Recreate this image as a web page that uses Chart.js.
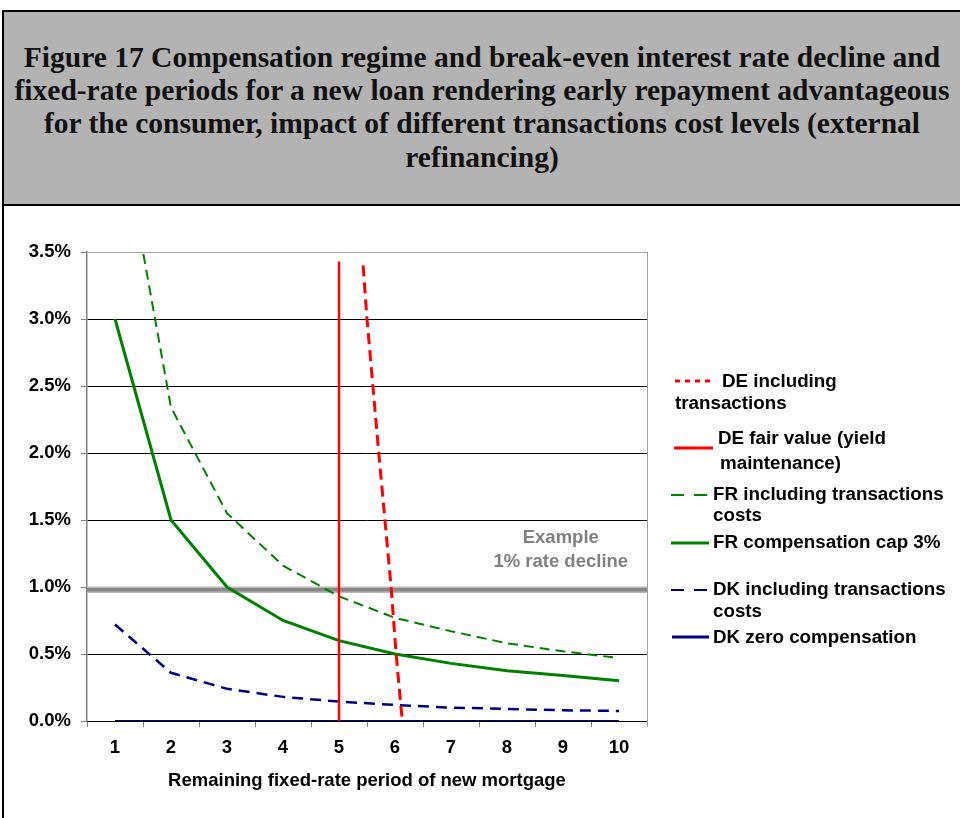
<!DOCTYPE html>
<html>
<head>
<meta charset="utf-8">
<script src="https://cdn.jsdelivr.net/npm/chart.js@4/dist/chart.umd.min.js"></script>
<style>
  html, body { margin:0; padding:0; background:#fff; width:960px; height:818px; overflow:hidden; position:relative; }
  #titlebox { position:absolute; left:2px; top:10px; width:960px; height:192px; background:#b3b3b3;
    border-top:2px solid #000; border-left:2px solid #000; border-bottom:2px solid #000; }
  .tl { position:absolute; left:2px; width:960px; text-align:center; white-space:nowrap;
    font-family:"Liberation Serif", serif; font-weight:bold; font-size:29.5px; line-height:33.4px; color:#111; }
  #leftborder { position:absolute; left:2px; top:206px; width:2px; height:612px; background:#000; }
  #chartwrap { position:absolute; left:0; top:210px; width:660px; height:608px; }
  .lg { position:absolute; font-family:"Liberation Sans", Arial, sans-serif; font-weight:bold; font-size:18.8px;
    line-height:22px; color:#000; white-space:nowrap; }
  svg.samp { position:absolute; left:0; top:0; width:960px; height:818px; pointer-events:none; }
</style>
</head>
<body>
<div id="titlebox"></div>
<div class="tl" style="top:40.5px;">Figure 17 Compensation regime and break-even interest rate decline and</div>
<div class="tl" style="top:73.9px;">fixed-rate periods for a new loan rendering early repayment advantageous</div>
<div class="tl" style="top:107.3px;">for the consumer, impact of different transactions cost levels (external</div>
<div class="tl" style="top:140.7px;">refinancing)</div>
<div id="leftborder"></div>
<div id="chartwrap"><canvas id="c" width="660" height="608"></canvas></div>

<svg class="samp" xmlns="http://www.w3.org/2000/svg">
  <line x1="675" y1="381" x2="713" y2="381" stroke="#ff0000" stroke-width="3" stroke-dasharray="5,5"/>
  <line x1="674" y1="448" x2="713" y2="448" stroke="#ff0000" stroke-width="3"/>
  <line x1="671" y1="495" x2="707" y2="495" stroke="#008000" stroke-width="2" stroke-dasharray="13,10"/>
  <line x1="671" y1="543" x2="709" y2="543" stroke="#008000" stroke-width="3"/>
  <line x1="671" y1="590" x2="707" y2="590" stroke="#000080" stroke-width="2" stroke-dasharray="13,10"/>
  <line x1="672" y1="637" x2="709" y2="637" stroke="#000080" stroke-width="3"/>
</svg>
<div class="lg" style="left:722px; top:370px;">DE including</div>
<div class="lg" style="left:675px; top:392px;">transactions</div>
<div class="lg" style="left:718px; top:427px;">DE fair value (yield</div>
<div class="lg" style="left:720px; top:452px;">maintenance)</div>
<div class="lg" style="left:713px; top:483px;">FR including transactions</div>
<div class="lg" style="left:713px; top:504px;">costs</div>
<div class="lg" style="left:713px; top:531px;">FR compensation cap 3%</div>
<div class="lg" style="left:713px; top:578px;">DK including transactions</div>
<div class="lg" style="left:713px; top:600px;">costs</div>
<div class="lg" style="left:713px; top:626px;">DK zero compensation</div>

<script>
// ---- data ----
const periods       = [1, 2, 3, 4, 5, 6, 7, 8, 9, 10];
const frInclCosts   = [4.66, 2.34, 1.55, 1.16, 0.93, 0.77, 0.67, 0.58, 0.52, 0.47];
const frCap3        = [3.00, 1.50, 1.00, 0.75, 0.60, 0.50, 0.43, 0.375, 0.34, 0.30];
const dkInclCosts   = [0.72, 0.36, 0.24, 0.18, 0.145, 0.12, 0.10, 0.09, 0.08, 0.075];
const dkZero        = [0, 0, 0, 0, 0, 0, 0, 0, 0, 0];
const deFairX       = [5, 5];
const deFairY       = [0, 3.43];
const deInclX       = [5.43, 5.50, 5.71, 5.93, 6.02, 6.13];
const deInclY       = [3.40, 3.00, 2.00, 1.00, 0.50, 0.00];
const exampleX      = [0.5, 10.5];
const exampleY      = [0.98, 0.98];
const exampleLabel  = ['Example', '1% rate decline'];
const exampleLabelX = 8.96;
const exampleLabelY = [1.37, 1.19];
const yTickValues   = [0, 0.5, 1.0, 1.5, 2.0, 2.5, 3.0, 3.5];
const xAxisTitle    = 'Remaining fixed-rate period of new mortgage';

const pts = (xs, ys) => xs.map((x, i) => ({ x: x, y: ys[i] }));

Chart.defaults.font.family = '"Liberation Sans", Arial, sans-serif';
Chart.defaults.font.weight = 'bold';
Chart.defaults.font.size = 18.5;
Chart.defaults.color = '#000';

const extras = {
  id: 'extras',
  beforeDatasetsDraw(chart) {
    const { ctx, chartArea } = chart;
    ctx.save();
    ctx.strokeStyle = '#a0a0a0';
    ctx.lineWidth = 1;
    ctx.beginPath();
    ctx.moveTo(chartArea.right + 0.5, chartArea.top);
    ctx.lineTo(chartArea.right + 0.5, chartArea.bottom + 6);
    ctx.stroke();
    ctx.restore();
  },
  afterDraw(chart) {
    const { ctx } = chart;
    const xs = chart.scales.x, ys = chart.scales.y;
    ctx.save();
    ctx.fillStyle = '#808080';
    ctx.font = 'bold 18.5px "Liberation Sans", Arial, sans-serif';
    ctx.textAlign = 'center';
    ctx.textBaseline = 'middle';
    exampleLabel.forEach((t, i) => {
      ctx.fillText(t, xs.getPixelForValue(exampleLabelX), ys.getPixelForValue(exampleLabelY[i]));
    });
    ctx.restore();
  }
};

new Chart(document.getElementById('c'), {
  type: 'line',
  data: {
    datasets: [
      { label: 'DE including transactions', data: pts(deInclX, deInclY), borderColor: '#ff0000',
        borderWidth: 3, borderDash: [11, 6], order: 1 },
      { label: 'DE fair value (yield maintenance)', data: pts(deFairX, deFairY), borderColor: '#ff0000',
        borderWidth: 2.5, order: 2 },
      { label: 'FR including transactions costs', data: pts(periods, frInclCosts), borderColor: '#008000',
        borderWidth: 2, borderDash: [10, 6], order: 3 },
      { label: 'FR compensation cap 3%', data: pts(periods, frCap3), borderColor: '#008000',
        borderWidth: 3, order: 4 },
      { label: 'DK including transactions costs', data: pts(periods, dkInclCosts), borderColor: '#000080',
        borderWidth: 2.5, borderDash: [11, 7], order: 5 },
      { label: 'DK zero compensation', data: pts(periods, dkZero), borderColor: '#000080',
        borderWidth: 2, order: 6 },
      { label: 'example-core', data: pts(exampleX, exampleY), borderColor: '#878787',
        borderWidth: 3.5, order: 7 },
      { label: 'example-edge', data: pts(exampleX, exampleY), borderColor: '#b8b8b8',
        borderWidth: 6.5, order: 8 }
    ]
  },
  options: {
    responsive: false,
    animation: false,
    devicePixelRatio: 1,
    elements: { point: { radius: 0, hoverRadius: 0 }, line: { tension: 0, fill: false, borderCapStyle: 'butt' } },
    layout: { padding: { top: 42, right: 13, left: 0, bottom: 0 } },
    plugins: { legend: { display: false }, tooltip: { enabled: false }, title: { display: false } },
    scales: {
      x: {
        type: 'linear', min: 0.5, max: 10.5,
        afterFit: (s) => { s.height = 97; },
        afterBuildTicks: (s) => {
          const t = [];
          for (let v = 0.5; v <= 10.5001; v += 0.5) t.push({ value: Math.round(v * 10) / 10 });
          s.ticks = t;
        },
        ticks: {
          autoSkip: false, maxRotation: 0, padding: 10, color: '#000',
          font: { size: 18.5, weight: 'bold' },
          callback: (v) => (Math.abs(v - Math.round(v)) < 1e-6 && periods.includes(Math.round(v))) ? String(Math.round(v)) : ''
        },
        grid: {
          drawOnChartArea: false, drawTicks: true, tickLength: 6,
          color: (c) => (c.tick && Math.abs((c.tick.value % 1) - 0.5) < 1e-6) ? '#808080' : 'rgba(0,0,0,0)',
          tickColor: (c) => (c.tick && Math.abs((c.tick.value % 1) - 0.5) < 1e-6) ? '#808080' : 'rgba(0,0,0,0)'
        },
        border: { color: '#000', width: 1 },
        title: { display: true, text: xAxisTitle, color: '#000', font: { size: 18.5, weight: 'bold' },
          padding: { top: 0, bottom: 26 } }
      },
      y: {
        type: 'linear', min: 0, max: 3.5,
        afterFit: (s) => { s.width = 87; },
        afterBuildTicks: (s) => { s.ticks = yTickValues.map(v => ({ value: v })); },
        ticks: { padding: 10, color: '#000', font: { size: 18.5, weight: 'bold' },
          callback: (v) => v.toFixed(1) + '%' },
        grid: {
          color: (c) => (c.tick && c.tick.value === 3.5) ? '#a6a6a6' : '#000',
          tickColor: '#808080', tickLength: 6, lineWidth: 1
        },
        border: { color: '#808080', width: 1.5 }
      }
    }
  },
  plugins: [extras]
});
</script>
</body>
</html>
